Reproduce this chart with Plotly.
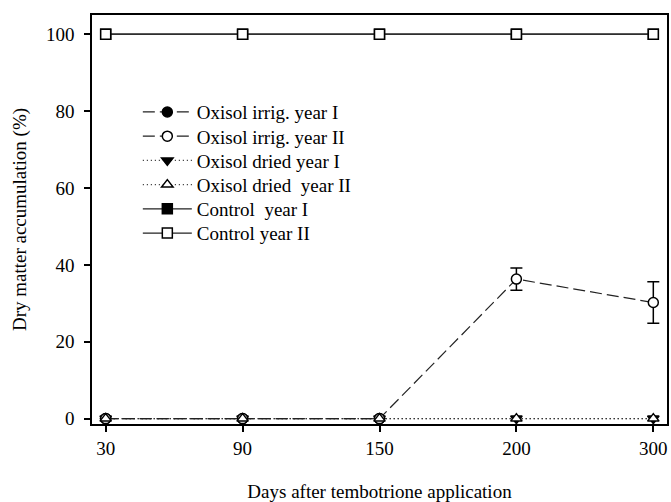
import plotly.graph_objects as go

days = ["30", "90", "150", "200", "300"]

irrig_y1 = [0, 0, 0, None, None]
irrig_y2 = [0, 0, 0, 36.3, 30.2]
irrig_y2_err = [0, 0, 0, 2.9, 5.4]
dried_y1 = [0, 0, 0, 0, 0]
dried_y2 = [0, 0, 0, 0, 0]
control_y1 = [100, 100, 100, 100, 100]
control_y2 = [100, 100, 100, 100, 100]

FONT = "Liberation Serif, Times New Roman, serif"
LC = "#222222"

fig = go.Figure()

def add(name, y, dash, symbol, fill, legend, err=None):
    tr = dict(
        x=days, y=y, name=name, mode="lines+markers",
        line=dict(color=LC, width=1.2, dash=dash),
        marker=dict(symbol=symbol, size=10, color=fill,
                    line=dict(color="black", width=1.5)),
        connectgaps=False, legend=legend,
    )
    if err is not None:
        tr["error_y"] = dict(type="data", array=err, visible=True,
                             color="black", thickness=1.5, width=6)
    fig.add_trace(go.Scatter(**tr))

add("Oxisol irrig. year I", irrig_y1, "12px,5px", "circle", "black", "legend")
add("Oxisol dried year I", dried_y1, "1px,3px", "triangle-down", "black", "legend3")
add("Oxisol irrig. year II", irrig_y2, "12px,5px", "circle", "white", "legend2", err=irrig_y2_err)
add("Oxisol dried  year II", dried_y2, "1px,3px", "triangle-up", "white", "legend4")
add("Control  year I", control_y1, "solid", "square", "black", "legend5")
add("Control year II", control_y2, "solid", "square", "white", "legend6")

top0 = 0.809
step = 0.0592
legend_common = dict(x=0.0797, xanchor="left", yanchor="top",
                     bgcolor="rgba(0,0,0,0)", itemwidth=49,
                     font=dict(size=19, family=FONT, color="black"))
legends = {}
for i in range(6):
    key = "legend" if i == 0 else f"legend{i + 1}"
    legends[key] = dict(legend_common, y=top0 - i * step)

fig.update_layout(
    width=671, height=502,
    margin=dict(l=92, r=2, t=15, b=73),
    paper_bgcolor="white", plot_bgcolor="white",
    font=dict(family=FONT, size=19, color="black"),
    showlegend=True,
    **legends,
)
fig.update_xaxes(
    type="category", range=[-0.1, 4.1],
    showline=True, mirror=True, linecolor="black", linewidth=1.5,
    ticks="outside", ticklen=6, tickwidth=1.5, tickcolor="black",
    showgrid=False, zeroline=False,
    title=dict(text="Days after tembotrione application", standoff=28,
               font=dict(size=19, family=FONT)),
)
fig.update_yaxes(
    range=[-1.4, 105], tickvals=[0, 20, 40, 60, 80, 100],
    showline=True, mirror=True, linecolor="black", linewidth=1.5,
    ticks="outside", ticklen=6, tickwidth=1.5, tickcolor="black",
    showgrid=False, zeroline=False, ticklabelstandoff=6,
    title=dict(text="Dry matter accumulation (%)", standoff=14,
               font=dict(size=19, family=FONT)),
)

fig.write_html("out.html")
